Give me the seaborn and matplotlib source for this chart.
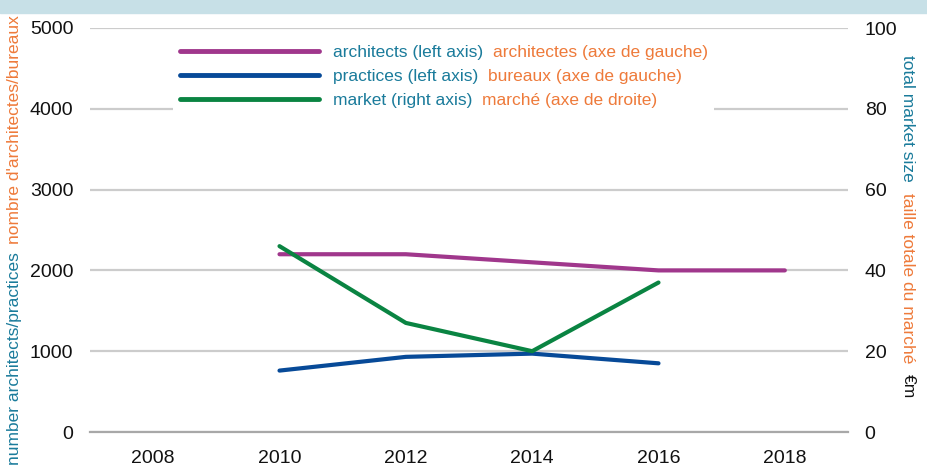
import numpy as np
import pandas as pd
import matplotlib
matplotlib.use("Agg")
import matplotlib.pyplot as plt
from matplotlib.patches import Rectangle
import seaborn as sns

# data
years = [2010, 2012, 2014, 2016, 2018]
architects = [2200, 2200, 2100, 2000, 2000]
practices = [760, 930, 970, 850, np.nan]
market = [46, 27, 20, 37, np.nan]

x_ticks = [2008, 2010, 2012, 2014, 2016, 2018]
left_ticks = [0, 1000, 2000, 3000, 4000, 5000]
right_ticks = [0, 20, 40, 60, 80, 100]

legend_en = ["architects (left axis)", "practices (left axis)", "market (right axis)"]
legend_fr = ["architectes (axe de gauche)", "bureaux (axe de gauche)", "marché (axe de droite)"]

df = pd.DataFrame({"year": years, "architects": architects,
                   "practices": practices, "market": market})

PURPLE = "#a0378c"
BLUE = "#074a98"
GREEN = "#0a8442"
TEAL = "#1a7b9b"
ORANGE = "#ee7a3a"

sns.set_style("white")
plt.rcParams["font.family"] = ["Liberation Sans", "DejaVu Sans"]

fig = plt.figure(figsize=(9.28, 4.65), dpi=100)
ax = fig.add_axes([90 / 928, 1 - 432 / 465, 758 / 928, 404 / 465])
ax2 = ax.twinx()

# top banner
fig.patches.append(Rectangle((0, 1 - 13 / 465), 1, 13 / 465, transform=fig.transFigure,
                             color="#c7e0e7", zorder=0))

line_kw = dict(linewidth=3, solid_capstyle="round")
sns.lineplot(data=df, x="year", y="architects", ax=ax, color=PURPLE, label=legend_en[0], **line_kw)
sns.lineplot(data=df, x="year", y="practices", ax=ax, color=BLUE, label=legend_en[1], **line_kw)
sns.lineplot(data=df, x="year", y="market", ax=ax2, color=GREEN, label=legend_en[2], **line_kw)

ax.set_xlim(2007, 2019)
ax.set_ylim(0, 5000)
ax2.set_ylim(0, 100)
ax.set_xticks(x_ticks)
ax.set_yticks(left_ticks)
ax2.set_yticks(right_ticks)
ax.set_xlabel("")
ax.set_ylabel("")
ax2.set_ylabel("")

ax.grid(axis="y", color="#cccccc", linewidth=1.6)
ax.grid(axis="x", visible=False)
ax2.grid(False)
for a in (ax, ax2):
    for s in ["left", "right", "top"]:
        a.spines[s].set_visible(False)
    a.spines["bottom"].set_color("#a8a8a8")
    a.spines["bottom"].set_linewidth(1.6)
ax2.spines["bottom"].set_visible(False)

ax.tick_params(axis="y", length=0, pad=12, labelsize=14, labelcolor="#111111")
ax.tick_params(axis="x", length=0, pad=13, labelsize=14, labelcolor="#111111")
ax2.tick_params(axis="y", length=0, pad=12, labelsize=14, labelcolor="#111111")

# legend with two-colour labels
if ax.get_legend():
    ax.get_legend().remove()
h1, l1 = ax.get_legend_handles_labels()
h2, l2 = ax2.get_legend_handles_labels()
leg = ax2.legend(h1 + h2, l1 + l2, loc="upper left", mode="expand",
                 bbox_to_anchor=(83 / 758, 1 - 10 / 404, 541 / 758, 0),
                 borderaxespad=0, frameon=True, framealpha=1, facecolor="white",
                 edgecolor="none", fancybox=False, fontsize=12.5,
                 handlelength=8.0, handletextpad=0.8, labelspacing=0.5,
                 borderpad=0.4)
for line in leg.get_lines():
    line.set_linewidth(3.5)
for txt, fr in zip(leg.get_texts(), legend_fr):
    txt.set_color(TEAL)
    ax2.annotate(fr, xy=(1, 0), xycoords=txt, xytext=(7, 0), textcoords="offset points",
                 ha="left", va="bottom", color=ORANGE, fontsize=12.5, zorder=10)

# left axis title: teal + orange, rotated
t1 = fig.text(15 / 928, 1 - 252 / 465, "number architects/practices", rotation=90,
              ha="center", va="top", color=TEAL, fontsize=12.5)
plt.annotate("nombre d'architectes/bureaux", xy=(0.5, 1), xycoords=t1, xytext=(0, 6),
             textcoords="offset points", rotation=90, ha="center", va="bottom",
             color=ORANGE, fontsize=12.5, annotation_clip=False)

# right axis title: teal + orange + black
r1 = fig.text(908 / 928, 1 - 55 / 465, "total market size", rotation=-90,
              ha="center", va="top", color=TEAL, fontsize=12.5)
r2 = plt.annotate("taille totale du marché", xy=(0.5, 0), xycoords=r1, xytext=(0, -8),
                  textcoords="offset points", rotation=-90, ha="center", va="top",
                  color=ORANGE, fontsize=12.5, annotation_clip=False)
plt.annotate("€m", xy=(0.5, 0), xycoords=r2, xytext=(0, -8),
             textcoords="offset points", rotation=-90, ha="center", va="top",
             color="#111111", fontsize=12.5, annotation_clip=False)

fig.savefig("out.png", dpi=100)
